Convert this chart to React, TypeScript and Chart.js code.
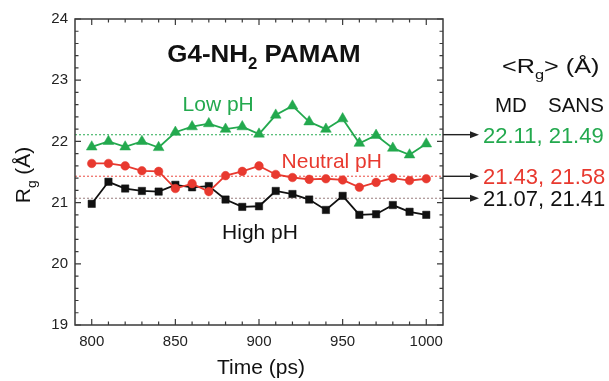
import { useEffect, useRef } from 'react';
import { Chart, registerables } from 'chart.js';

Chart.register(...registerables);

const FONT = '"Liberation Sans", Arial, Helvetica, sans-serif';

// ---- data ----
const times = [800, 810, 820, 830, 840, 850, 860, 870, 880, 890, 900, 910, 920, 930, 940, 950, 960, 970, 980, 990, 1000];
const lowPH = [21.91, 22.0, 21.91, 22.0, 21.9, 22.15, 22.24, 22.29, 22.2, 22.24, 22.12, 22.43, 22.58, 22.32, 22.2, 22.37, 21.97, 22.1, 21.89, 21.78, 21.96];
const neutralPH = [21.64, 21.64, 21.6, 21.52, 21.51, 21.23, 21.31, 21.18, 21.44, 21.51, 21.6, 21.46, 21.41, 21.38, 21.39, 21.37, 21.25, 21.33, 21.4, 21.36, 21.39];
const highPH = [20.98, 21.34, 21.23, 21.19, 21.18, 21.29, 21.25, 21.27, 21.05, 20.93, 20.94, 21.19, 21.14, 21.05, 20.88, 21.11, 20.8, 20.81, 20.96, 20.85, 20.8];
const seriesLabels = ['Low pH', 'Neutral pH', 'High pH'];
const mdMeans = [22.11, 21.43, 21.07];
const sansMeans = [21.49, 21.58, 21.41];
const xMajorTicks = [800, 850, 900, 950, 1000];
const yMajorTicks = [19, 20, 21, 22, 23, 24];

const COLORS = ['#23a94e', '#e8392f', '#111111'];
const DOT_COLORS = ['rgba(35,169,78,0.75)', 'rgba(232,57,47,0.7)', 'rgba(150,120,120,0.75)'];

type Part = { t: string; sub?: boolean };

function drawRich(ctx: CanvasRenderingContext2D, x: number, y: number, parts: Part[], size: number, bold: boolean, color: string, sx = 1, measureOnly = false): number {
  ctx.save();
  ctx.translate(x, y);
  ctx.scale(sx, 1);
  ctx.fillStyle = color;
  ctx.textAlign = 'left';
  ctx.textBaseline = 'alphabetic';
  let cx = 0;
  for (const p of parts) {
    const fs = p.sub ? size * 0.65 : size;
    ctx.font = `${bold ? 'bold ' : ''}${fs}px ${FONT}`;
    if (!measureOnly) ctx.fillText(p.t, cx, p.sub ? size * 0.3 : 0);
    cx += ctx.measureText(p.t).width;
  }
  ctx.restore();
  return cx * sx;
}

const annotPlugin = {
  id: 'annot',
  beforeDatasetsDraw(chart: any) {
    const { ctx, chartArea, scales } = chart;
    const ys = scales.y;
    ctx.save();
    ctx.lineWidth = 1.3;
    ctx.setLineDash([2, 2]);
    mdMeans.forEach((m, i) => {
      const py = ys.getPixelForValue(m);
      ctx.strokeStyle = DOT_COLORS[i];
      ctx.beginPath();
      ctx.moveTo(chartArea.left, py);
      ctx.lineTo(chartArea.right, py);
      ctx.stroke();
    });
    ctx.restore();
  },
  afterDraw(chart: any) {
    const { ctx, chartArea, scales } = chart;
    const xs = scales.x;
    const ys = scales.y;
    const { left, right, top, bottom } = chartArea;
    ctx.save();

    // frame
    ctx.strokeStyle = '#3a3a3a';
    ctx.lineWidth = 1.5;
    ctx.setLineDash([]);
    ctx.strokeRect(left, top, right - left, bottom - top);

    // ticks (inward, all sides)
    ctx.lineWidth = 1.2;
    ctx.beginPath();
    for (let v = 800; v <= 1000; v += 10) {
      const px = xs.getPixelForValue(v);
      const len = v % 50 === 0 ? 6 : 3.5;
      ctx.moveTo(px, bottom); ctx.lineTo(px, bottom - len);
      ctx.moveTo(px, top); ctx.lineTo(px, top + len);
    }
    for (let k = 0; k <= 25; k++) {
      const v = 19 + k * 0.2;
      const py = ys.getPixelForValue(v);
      const len = k % 5 === 0 ? 6 : 3.5;
      ctx.moveTo(left, py); ctx.lineTo(left + len, py);
      ctx.moveTo(right, py); ctx.lineTo(right - len, py);
    }
    ctx.stroke();

    // arrows and mean values
    mdMeans.forEach((m, i) => {
      const py = ys.getPixelForValue(m);
      ctx.strokeStyle = '#222';
      ctx.fillStyle = '#222';
      ctx.lineWidth = 1.4;
      ctx.beginPath();
      ctx.moveTo(right, py);
      ctx.lineTo(472, py);
      ctx.stroke();
      ctx.beginPath();
      ctx.moveTo(479, py);
      ctx.lineTo(470, py - 3.5);
      ctx.lineTo(470, py + 3.5);
      ctx.closePath();
      ctx.fill();
      drawRich(ctx, 483, py + 8, [{ t: `${m.toFixed(2)}, ${sansMeans[i].toFixed(2)}` }], 22, false, COLORS[i]);
    });

    // header on the right
    drawRich(ctx, 502, 73, [{ t: '<R' }, { t: 'g', sub: true }, { t: '> (Å)' }], 21, false, '#111', 1.2);
    drawRich(ctx, 495, 111.5, [{ t: 'MD' }], 20.5, false, '#111');
    drawRich(ctx, 548, 111.5, [{ t: 'SANS' }], 20.5, false, '#111');

    // title in plot
    drawRich(ctx, xs.getPixelForValue(845.2), ys.getPixelForValue(23.3), [{ t: 'G4-NH' }, { t: '2', sub: true }, { t: ' PAMAM' }], 24, true, '#111', 1.08);

    // series labels
    const labelX = [875.6, 943.5, 900.6];
    const labelY = [22.49, 21.57, 20.41];
    seriesLabels.forEach((s, i) => {
      ctx.font = `21px ${FONT}`;
      const w = ctx.measureText(s).width;
      drawRich(ctx, xs.getPixelForValue(labelX[i]) - w / 2, ys.getPixelForValue(labelY[i]), [{ t: s }], 21, false, COLORS[i]);
    });

    // axis titles
    ctx.font = `21px ${FONT}`;
    const tw = ctx.measureText('Time (ps)').width;
    drawRich(ctx, (left + right) / 2 + 2 - tw / 2, 374, [{ t: 'Time (ps)' }], 21, false, '#111');

    const yParts: Part[] = [{ t: 'R' }, { t: 'g', sub: true }, { t: ' (Å)' }];
    const yw = drawRich(ctx, 0, 0, yParts, 21, false, '#111', 1, true);
    ctx.save();
    ctx.translate(30, (top + bottom) / 2 + 3 + yw / 2);
    ctx.rotate(-Math.PI / 2);
    drawRich(ctx, 0, 0, yParts, 21, false, '#111');
    ctx.restore();

    ctx.restore();
  },
};

export default function App() {
  const ref = useRef<HTMLCanvasElement>(null);
  useEffect(() => {
    if (!ref.current) return;
    const seriesData = [lowPH, neutralPH, highPH];
    const styles = ['triangle', 'circle', 'rect'];
    const radii = [6.2, 4.3, 5.2];
    const chart = new Chart(ref.current, {
      type: 'line',
      data: {
        datasets: seriesData.map((arr, i) => ({
          label: seriesLabels[i],
          data: times.map((t, j) => ({ x: t, y: arr[j] })),
          borderColor: COLORS[i],
          backgroundColor: COLORS[i],
          borderWidth: 1.8,
          pointStyle: styles[i] as any,
          pointRadius: radii[i],
          pointBorderWidth: 0.5,
          tension: 0,
        })),
      },
      options: {
        animation: false,
        responsive: false,
        layout: { padding: { top: 19, right: 166, left: 0, bottom: 0 } },
        plugins: { legend: { display: false }, tooltip: { enabled: false } },
        scales: {
          x: {
            type: 'linear',
            min: 790,
            max: 1010,
            grid: { display: false, drawTicks: false },
            border: { display: false },
            ticks: { font: { family: FONT, size: 15 }, color: '#222', padding: 8, maxRotation: 0, callback: (v: any) => String(v) },
            afterBuildTicks: (s: any) => { s.ticks = xMajorTicks.map((v) => ({ value: v })); },
            afterFit: (s: any) => { s.height = 56; },
          },
          y: {
            min: 19,
            max: 24,
            grid: { display: false, drawTicks: false },
            border: { display: false },
            ticks: { font: { family: FONT, size: 15 }, color: '#222', padding: 7, callback: (v: any) => String(v) },
            afterBuildTicks: (s: any) => { s.ticks = yMajorTicks.map((v) => ({ value: v })); },
            afterFit: (s: any) => { s.width = 75; },
          },
        },
      },
      plugins: [annotPlugin],
    } as any);
    return () => chart.destroy();
  }, []);
  return (
    <div style={{ position: 'absolute', left: 0, top: 0, width: 609, height: 381, background: '#fff' }}>
      <canvas ref={ref} width={609} height={381} style={{ display: 'block' }} />
    </div>
  );
}
